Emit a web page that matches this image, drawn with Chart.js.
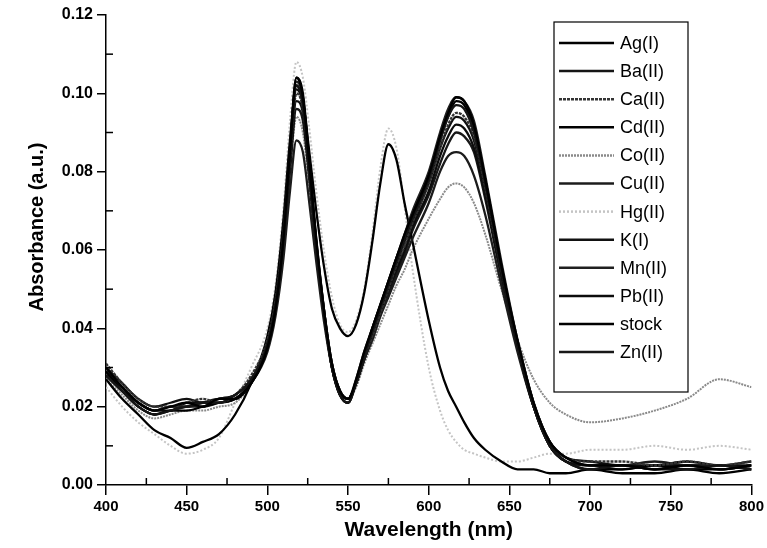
<!DOCTYPE html>
<html>
<head>
<meta charset="utf-8">
<script src="https://cdn.jsdelivr.net/npm/chart.js@4.4.1/dist/chart.umd.min.js"></script>
<style>
  body { margin: 0; background: #fff; }
  canvas { display: block; }
</style>
</head>
<body>
<canvas id="spectra" width="767" height="548"></canvas>
<script>
// wavelengths (nm), denser around the two absorption bands
const wavelengths = [400,410,420,430,440,450,460,470,480,490,500,505,510,514,518,522,526,530,535,540,545,550,555,560,565,570,575,580,585,590,600,607,612,617,622,628,635,645,655,665,675,685,700,720,740,760,780,800];

const agI   = [0.030,0.025,0.021,0.019,0.020,0.021,0.020,0.022,0.022,0.026,0.035,0.045,0.063,0.085,0.104,0.099,0.082,0.064,0.045,0.031,0.024,0.022,0.027,0.034,0.040,0.046,0.052,0.058,0.064,0.069,0.079,0.089,0.095,0.099,0.098,0.092,0.078,0.056,0.037,0.021,0.011,0.007,0.005,0.005,0.004,0.005,0.004,0.005];
const baII  = [0.028,0.024,0.020,0.018,0.019,0.020,0.021,0.021,0.023,0.027,0.036,0.046,0.064,0.084,0.102,0.097,0.080,0.062,0.044,0.030,0.023,0.021,0.026,0.033,0.039,0.045,0.051,0.057,0.063,0.068,0.078,0.088,0.094,0.097,0.096,0.090,0.077,0.055,0.036,0.020,0.010,0.006,0.004,0.005,0.004,0.004,0.005,0.004];
const caII  = [0.031,0.026,0.022,0.020,0.020,0.021,0.022,0.021,0.023,0.028,0.037,0.047,0.064,0.083,0.100,0.096,0.080,0.063,0.045,0.031,0.024,0.022,0.026,0.033,0.038,0.044,0.050,0.056,0.061,0.067,0.077,0.086,0.092,0.095,0.094,0.089,0.076,0.055,0.037,0.021,0.011,0.007,0.006,0.006,0.005,0.006,0.005,0.006];
const cdII  = [0.029,0.024,0.020,0.018,0.019,0.019,0.020,0.021,0.022,0.026,0.035,0.045,0.064,0.086,0.104,0.100,0.083,0.064,0.045,0.030,0.023,0.021,0.026,0.033,0.040,0.046,0.052,0.058,0.063,0.069,0.079,0.088,0.094,0.098,0.097,0.091,0.078,0.056,0.036,0.020,0.010,0.006,0.004,0.004,0.005,0.004,0.004,0.005];
const coII  = [0.027,0.023,0.019,0.017,0.018,0.019,0.019,0.020,0.021,0.026,0.036,0.046,0.062,0.080,0.094,0.090,0.076,0.060,0.043,0.030,0.024,0.022,0.025,0.031,0.036,0.041,0.046,0.051,0.055,0.060,0.068,0.073,0.076,0.077,0.076,0.072,0.064,0.050,0.037,0.027,0.021,0.018,0.016,0.017,0.019,0.022,0.027,0.025];
const cuII  = [0.028,0.024,0.020,0.018,0.019,0.020,0.020,0.021,0.022,0.026,0.034,0.043,0.058,0.075,0.088,0.085,0.072,0.058,0.042,0.030,0.023,0.022,0.026,0.032,0.037,0.043,0.048,0.053,0.058,0.063,0.072,0.080,0.084,0.085,0.084,0.079,0.069,0.051,0.034,0.020,0.011,0.007,0.005,0.005,0.006,0.005,0.005,0.006];
const hgII  = [0.025,0.020,0.016,0.013,0.010,0.008,0.009,0.012,0.021,0.030,0.040,0.051,0.071,0.093,0.108,0.104,0.091,0.076,0.060,0.048,0.041,0.039,0.042,0.050,0.064,0.081,0.091,0.086,0.071,0.055,0.030,0.019,0.014,0.011,0.009,0.008,0.007,0.006,0.006,0.007,0.008,0.008,0.009,0.009,0.010,0.009,0.010,0.009];
const kI    = [0.030,0.026,0.022,0.020,0.021,0.022,0.021,0.022,0.023,0.027,0.036,0.046,0.064,0.084,0.101,0.097,0.081,0.063,0.045,0.031,0.024,0.022,0.026,0.033,0.039,0.045,0.051,0.056,0.062,0.067,0.077,0.086,0.091,0.094,0.093,0.088,0.075,0.054,0.035,0.020,0.010,0.006,0.005,0.004,0.005,0.005,0.004,0.005];
const mnII  = [0.029,0.025,0.021,0.019,0.020,0.020,0.021,0.022,0.022,0.027,0.036,0.046,0.065,0.086,0.103,0.099,0.082,0.063,0.044,0.030,0.023,0.021,0.027,0.034,0.040,0.046,0.052,0.058,0.064,0.070,0.080,0.090,0.096,0.099,0.098,0.093,0.079,0.057,0.037,0.021,0.011,0.006,0.005,0.005,0.004,0.005,0.005,0.004];
const pbII  = [0.028,0.024,0.021,0.019,0.019,0.021,0.021,0.022,0.023,0.027,0.036,0.046,0.062,0.082,0.098,0.095,0.079,0.062,0.044,0.031,0.024,0.022,0.026,0.032,0.038,0.044,0.050,0.055,0.060,0.066,0.075,0.084,0.089,0.092,0.091,0.086,0.074,0.054,0.036,0.021,0.011,0.007,0.006,0.005,0.005,0.006,0.005,0.005];
const stock = [0.027,0.022,0.018,0.014,0.012,0.0095,0.011,0.013,0.018,0.026,0.038,0.049,0.068,0.088,0.102,0.098,0.085,0.071,0.056,0.045,0.040,0.038,0.041,0.049,0.062,0.077,0.087,0.083,0.072,0.062,0.042,0.030,0.024,0.020,0.016,0.012,0.009,0.006,0.004,0.004,0.003,0.003,0.004,0.003,0.003,0.004,0.003,0.004];
const znII  = [0.029,0.025,0.021,0.019,0.020,0.020,0.021,0.021,0.022,0.026,0.035,0.045,0.061,0.080,0.096,0.093,0.078,0.061,0.044,0.030,0.024,0.022,0.026,0.032,0.038,0.044,0.049,0.054,0.059,0.065,0.074,0.082,0.087,0.090,0.089,0.085,0.073,0.053,0.035,0.020,0.010,0.006,0.005,0.005,0.004,0.005,0.005,0.004];

const labels = ['Ag(I)','Ba(II)','Ca(II)','Cd(II)','Co(II)','Cu(II)','Hg(II)','K(I)','Mn(II)','Pb(II)','stock','Zn(II)'];
const seriesValues = [agI, baII, caII, cdII, coII, cuII, hgII, kI, mnII, pbII, stock, znII];
const colors = ['#000','#151515','#333','#000','#8a8a8a','#1c1c1c','#c4c4c4','#111','#202020','#0c0c0c','#000','#181818'];
const dashes = [[],[],[3,1],[],[2,1],[],[2,2],[],[],[],[],[]];

const yTicks = [0, 0.02, 0.04, 0.06, 0.08, 0.10, 0.12];
const minorX = [425, 475, 525, 575, 625, 675, 725, 775];
const minorY = [0.01, 0.03, 0.05, 0.07, 0.09, 0.11];

const FONT = "'Liberation Sans', Arial, sans-serif";

const datasets = labels.map((name, i) => ({
  label: name,
  data: wavelengths.map((w, j) => ({ x: w, y: seriesValues[i][j] })),
  borderColor: colors[i],
  borderWidth: (name === 'Hg(II)' || name === 'Co(II)') ? 2 : 2.3,
  borderDash: dashes[i],
  pointRadius: 0,
  cubicInterpolationMode: 'monotone',
  order: (name === 'Hg(II)' || name === 'Co(II)') ? 1 : 0
}));

// minor ticks inside the axes, y axis title, boxed legend inside the plot
const extras = {
  id: 'extras',
  afterDraw(chart) {
    const { ctx, chartArea, scales: { x, y } } = chart;
    ctx.save();
    ctx.strokeStyle = '#000';
    ctx.lineWidth = 1.5;
    minorX.forEach(v => {
      const px = x.getPixelForValue(v);
      ctx.beginPath();
      ctx.moveTo(px, chartArea.bottom);
      ctx.lineTo(px, chartArea.bottom - 7);
      ctx.stroke();
    });
    minorY.forEach(v => {
      const py = y.getPixelForValue(v);
      ctx.beginPath();
      ctx.moveTo(chartArea.left, py);
      ctx.lineTo(chartArea.left + 7, py);
      ctx.stroke();
    });

    ctx.save();
    ctx.translate(37, 227);
    ctx.rotate(-Math.PI / 2);
    ctx.font = 'bold 20px ' + FONT;
    ctx.fillStyle = '#000';
    ctx.textAlign = 'center';
    ctx.textBaseline = 'middle';
    ctx.fillText('Absorbance (a.u.)', 0, 0);
    ctx.restore();

    // legend box
    ctx.fillStyle = '#fff';
    ctx.fillRect(554, 22, 134, 370);
    ctx.lineWidth = 1.2;
    ctx.strokeRect(554, 22, 134, 370);
    ctx.font = '18px ' + FONT;
    ctx.textBaseline = 'middle';
    chart.data.datasets.forEach((ds, i) => {
      const yy = 43 + i * 28.1;
      ctx.strokeStyle = ds.borderColor;
      ctx.lineWidth = 2.5;
      ctx.setLineDash(ds.borderDash);
      ctx.beginPath();
      ctx.moveTo(559, yy);
      ctx.lineTo(614, yy);
      ctx.stroke();
      ctx.setLineDash([]);
      ctx.fillStyle = '#000';
      ctx.fillText(ds.label, 620, yy + 1);
    });
    ctx.restore();
  }
};

new Chart(document.getElementById('spectra'), {
  type: 'line',
  data: { datasets },
  plugins: [extras],
  options: {
    responsive: false,
    animation: false,
    devicePixelRatio: 1,
    layout: { padding: { top: 15, right: 14, left: 0, bottom: 0 } },
    plugins: { legend: { display: false }, tooltip: { enabled: false } },
    scales: {
      x: {
        type: 'linear',
        min: 400,
        max: 800,
        afterFit: s => { s.height = 63; },
        ticks: {
          stepSize: 50,
          color: '#000',
          padding: 3,
          maxRotation: 0,
          font: { family: FONT, size: 15, weight: 'bold' }
        },
        grid: { drawOnChartArea: false, tickLength: 10, color: '#000', lineWidth: 1.5 },
        border: { color: '#000', width: 1.5 },
        title: {
          display: true,
          text: 'Wavelength (nm)',
          color: '#000',
          padding: { top: 0, bottom: 5 },
          font: { family: FONT, size: 21, weight: 'bold' }
        }
      },
      y: {
        min: 0,
        max: 0.12,
        afterFit: s => { s.width = 106; },
        afterBuildTicks: s => { s.ticks = yTicks.map(v => ({ value: v })); },
        ticks: {
          color: '#000',
          padding: 4,
          callback: v => v.toFixed(2),
          font: { family: FONT, size: 16, weight: 'bold' }
        },
        grid: { drawOnChartArea: false, tickLength: 9, color: '#000', lineWidth: 1.5 },
        border: { color: '#000', width: 1.5 }
      }
    }
  }
});
</script>
</body>
</html>
